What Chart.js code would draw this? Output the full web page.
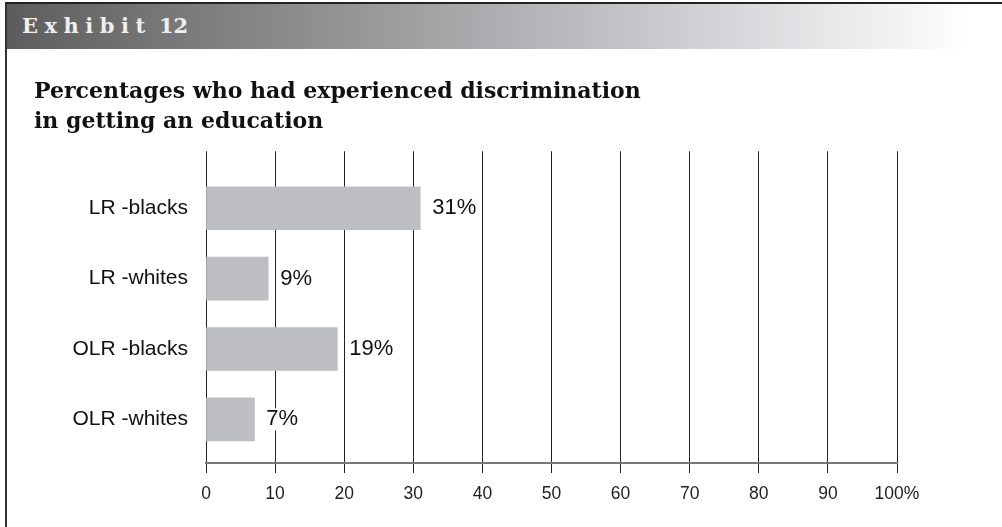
<!DOCTYPE html>
<html>
<head>
<meta charset="utf-8">
<script src="https://cdn.jsdelivr.net/npm/chart.js@4.4.1/dist/chart.umd.min.js"></script>
<style>
  html, body { margin: 0; padding: 0; background: #fff; }
  #page { position: relative; width: 1002px; height: 527px; overflow: hidden; }
  #frame {
    position: absolute; left: 5px; top: 2px; width: 1010px; height: 540px;
    border-left: 2px solid #333; border-top: 2px solid #222; box-sizing: border-box;
  }
  #band {
    position: absolute; left: 7px; top: 4px; width: 995px; height: 45px;
    background: linear-gradient(to right, #5d5d5d 0%, #8e8e90 30%, #bfc0c3 60%, #e2e3e5 80%, #fff 97%);
  }
  #band span {
    position: absolute; left: 15px; top: 9px;
    font: bold 21px "DejaVu Serif", "Liberation Serif", serif;
    color: #efefef; white-space: pre;
  }
  #band span b { letter-spacing: 6.5px; }
  #wrap { position: absolute; left: 0; top: 50px; width: 1002px; height: 477px; }
</style>
</head>
<body>
<div id="page">
  <div id="frame"></div>
  <div id="band"><span><b>Exhibit</b> 12</span></div>
  <div id="wrap"><canvas id="chart"></canvas></div>
</div>
<script>
const TITLE = ['Percentages who had experienced discrimination', 'in getting an education'];
const categories = ['LR -blacks', 'LR -whites', 'OLR -blacks', 'OLR -whites'];
const values = [31, 9, 19, 7];
const xTicks = [0, 10, 20, 30, 40, 50, 60, 70, 80, 90, 100];
const xTickLabels = ['0', '10', '20', '30', '40', '50', '60', '70', '80', '90', '100%'];

const SANS = '"Liberation Sans", Arial, sans-serif';

// writes "31%" etc. just past the end of each bar, on a white patch over the grid
const valueLabels = {
  id: 'valueLabels',
  afterDraw(chart) {
    const { ctx } = chart;
    const meta = chart.getDatasetMeta(0);
    ctx.save();
    ctx.font = '22px ' + SANS;
    ctx.textAlign = 'left';
    ctx.textBaseline = 'middle';
    meta.data.forEach((bar, i) => {
      const txt = values[i] + '%';
      const w = ctx.measureText(txt).width;
      const x = bar.x + 12;
      ctx.fillStyle = '#fff';
      ctx.fillRect(x, bar.y - 11, w, 22);
      ctx.fillStyle = '#111';
      ctx.fillText(txt, x, bar.y);
    });
    ctx.restore();
  }
};

new Chart(document.getElementById('chart'), {
  type: 'bar',
  data: {
    datasets: [{
      data: values.map((v, i) => ({ x: v, y: i })),
      backgroundColor: '#bdbec2',
      borderWidth: 0,
      barThickness: 43,
    }],
  },
  options: {
    indexAxis: 'y',
    responsive: true,
    maintainAspectRatio: false,
    animation: false,
    layout: { padding: { left: 34, right: 105, top: 0, bottom: 11 } },
    scales: {
      x: {
        type: 'linear',
        min: 0,
        max: 100,
        afterBuildTicks: (s) => { s.ticks = xTicks.map((v) => ({ value: v })); },
        ticks: {
          callback: (v) => xTickLabels[xTicks.indexOf(v)],
          color: '#222',
          font: { family: SANS, size: 17.5 },
          padding: 11,
          maxRotation: 0,
          autoSkip: false,
        },
        grid: { color: '#222', lineWidth: 1, tickLength: 10, tickColor: '#222' },
        border: { display: true, color: '#777', width: 2 },
      },
      y: {
        type: 'linear',
        offset: false,
        reverse: true,
        min: -0.81,
        max: 3.62,
        afterBuildTicks: (s) => { s.ticks = categories.map((_, i) => ({ value: i })); },
        afterFit: (s) => { s.width = 172; },
        ticks: {
          callback: (v) => categories[v],
          color: '#111',
          font: { family: SANS, size: 21 },
          padding: 10,
        },
        grid: { display: false },
        border: { display: false },
      },
    },
    plugins: {
      legend: { display: false },
      tooltip: { enabled: false },
      title: {
        display: true,
        text: TITLE,
        align: 'start',
        color: '#111',
        font: { family: '"DejaVu Serif", "Liberation Serif", serif', size: 22, weight: 'bold', lineHeight: 1.37 },
        padding: { top: 27, bottom: 14 },
      },
    },
  },
  plugins: [valueLabels],
});
</script>
</body>
</html>
